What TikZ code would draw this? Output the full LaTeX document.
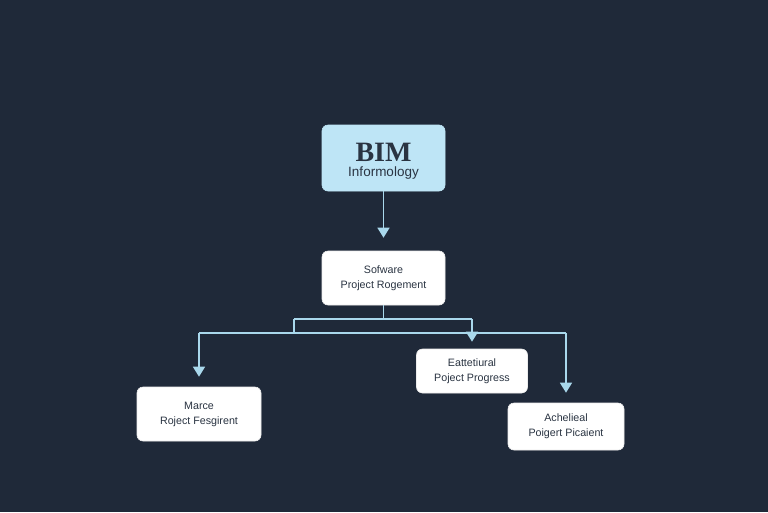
\documentclass[tikz,border=0pt]{standalone}
\usepackage{fontspec}
\setmainfont{Liberation Sans}
\newfontfamily\serifbim{Liberation Serif}
\usetikzlibrary{arrows.meta}
\definecolor{bgc}{HTML}{1F2939}
\definecolor{lblue}{HTML}{BEE5F6}
\definecolor{lnc}{HTML}{A9D8EC}
\definecolor{txt}{HTML}{2A3442}
\tikzset{
  box/.style={draw=white!85!gray, line width=0.6pt, fill=white, rounded corners=6pt, inner sep=0pt, align=center, text=txt, font=\fontsize{10.7}{15}\selectfont},
  ln/.style={draw=lnc, line width=1.5pt},
  arr/.style={ln, -{Triangle[width=12pt,length=10pt]}},
}
\begin{document}
\begin{tikzpicture}[x=1pt,y=-1pt]
\fill[bgc] (0,0) rectangle (768,512);
\useasboundingbox (0,0) rectangle (768,512);
\node[box, fill=lblue, draw=lblue, minimum width=123pt, minimum height=66pt] (bim) at (383.5,158) {};
\node[text=txt, font=\serifbim\bfseries\fontsize{28}{28}\selectfont] (bimt) at (383.5,152) {BIM};
\node[text=txt, font=\fontsize{13.5}{13.5}\selectfont] (bims) at (383.5,173) {Informology};
\node[box, minimum width=123pt, minimum height=54pt] (sw) at (383.5,278) {Sofware\\Project Rogement};
\node[box, minimum width=124pt, minimum height=54pt] (mar) at (199,414) {Marce\\Roject Fesgirent};
\node[box, minimum width=111pt, minimum height=44pt] (eat) at (472,371) {Eattetiural\\Poject Progress};
\node[box, minimum width=116pt, minimum height=47pt] (ach) at (566,426.5) {Achelieal\\Poigert Picaient};
\coordinate (j1) at (383.5,319);
\coordinate (j1L) at (294,319);
\coordinate (j1R) at (472,319);
\coordinate (j2) at (294,333);
\coordinate (j2L) at (199,333);
\coordinate (j2R) at (566,333);
\draw[arr, shorten >=13pt] (bim.south) -- (sw.north);
\draw[ln] (sw.south) -- (j1);
\draw[ln] (j1L) -- (j1R);
\draw[ln] (j1L) -- (j2);
\draw[ln] (j2L) -- (j2R);
\draw[arr, shorten >=7pt] (j1R) -- (eat.north);
\draw[arr, shorten >=10pt] (j2L) -- (mar.north);
\draw[arr, shorten >=10pt] (j2R) -- (ach.north);
\end{tikzpicture}
\end{document}
